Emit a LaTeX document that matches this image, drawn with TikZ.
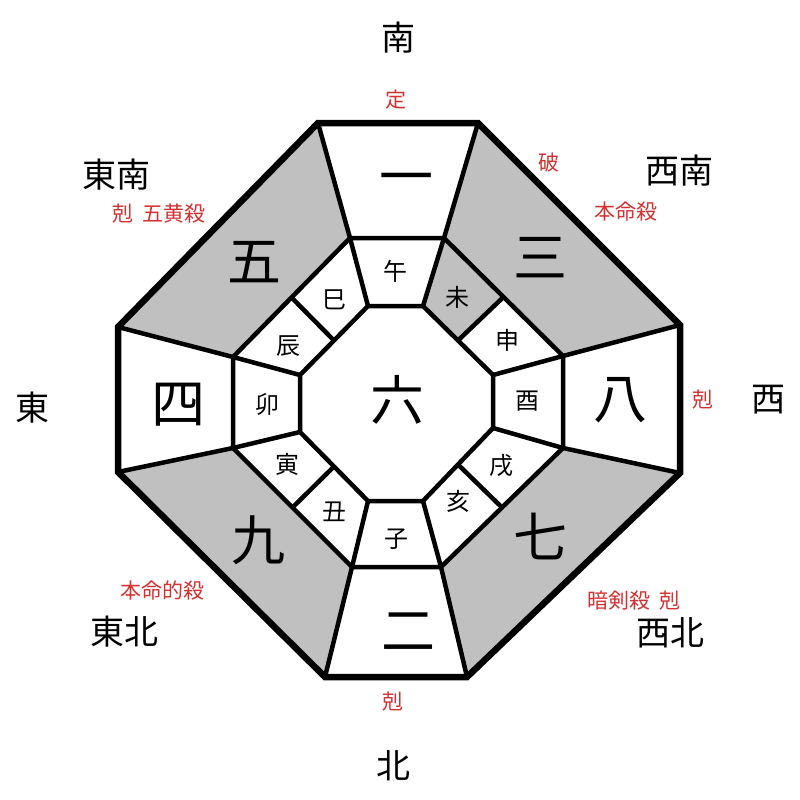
\documentclass[tikz,border=0pt]{standalone}
\usepackage{fontspec}
\newfontfamily\jp{Noto Sans CJK JP}
\usetikzlibrary{calc}
\definecolor{sect}{RGB}{192,192,192}
\definecolor{note}{RGB}{210,50,50}
\tikzset{
  outerline/.style={line width=6.5pt, line join=miter},
  innerline/.style={line width=4.5pt, line join=miter},
  big/.style={font=\jp\fontsize{54}{54}\selectfont, inner sep=0pt},
  mid/.style={font=\jp\fontsize{24}{24}\selectfont, inner sep=0pt},
  dir/.style={font=\jp\fontsize{34}{34}\selectfont, inner sep=0pt},
  rednote/.style={font=\jp\fontsize{21}{21}\selectfont, text=note, inner sep=0pt},
}
\begin{document}
\begin{tikzpicture}[x=1pt,y=-1pt]
\useasboundingbox[fill=white] (0,0) rectangle (800,800);
% outer octagon
\coordinate (O1) at (318,123); \coordinate (O2) at (478,123);
\coordinate (O3) at (680,325); \coordinate (O4) at (680,473);
\coordinate (O5) at (467,677); \coordinate (O6) at (325,677);
\coordinate (O7) at (118,472); \coordinate (O8) at (118,327);
% middle octagon
\coordinate (M1) at (350,238); \coordinate (M2) at (444,238);
\coordinate (M3) at (563,356); \coordinate (M4) at (563,448);
\coordinate (M5) at (441,567); \coordinate (M6) at (352,567);
\coordinate (M7) at (233,448); \coordinate (M8) at (233,357);
% inner octagon
\coordinate (I1) at (368,306); \coordinate (I2) at (423,306);
\coordinate (I3) at (493,375); \coordinate (I4) at (493,428);
\coordinate (I5) at (423,501); \coordinate (I6) at (368,501);
\coordinate (I7) at (300,432); \coordinate (I8) at (300,375);
% midpoints on diagonals
\coordinate (A23) at ($(M2)!0.5!(M3)$); \coordinate (B23) at ($(I2)!0.5!(I3)$);
\coordinate (A45) at ($(M4)!0.5!(M5)$); \coordinate (B45) at ($(I4)!0.5!(I5)$);
\coordinate (A67) at ($(M6)!0.5!(M7)$); \coordinate (B67) at ($(I6)!0.5!(I7)$);
\coordinate (A81) at ($(M8)!0.5!(M1)$); \coordinate (B81) at ($(I8)!0.5!(I1)$);
% grey fills
\fill[sect] (O2) -- (O3) -- (M3) -- (M2) -- cycle;
\fill[sect] (O4) -- (O5) -- (M5) -- (M4) -- cycle;
\fill[sect] (O6) -- (O7) -- (M7) -- (M6) -- cycle;
\fill[sect] (O8) -- (O1) -- (M1) -- (M8) -- cycle;
\fill[sect] (M2) -- (A23) -- (B23) -- (I2) -- cycle;
% lines
\draw[innerline] (M1) -- (M2) -- (M3) -- (M4) -- (M5) -- (M6) -- (M7) -- (M8) -- cycle;
\draw[innerline] (I1) -- (I2) -- (I3) -- (I4) -- (I5) -- (I6) -- (I7) -- (I8) -- cycle;
\foreach \i in {1,...,8} {
  \draw[innerline] (O\i) -- (M\i);
  \draw[innerline] (M\i) -- (I\i);
}
\draw[innerline] (A23) -- (B23);
\draw[innerline] (A45) -- (B45);
\draw[innerline] (A67) -- (B67);
\draw[innerline] (A81) -- (B81);
\draw[outerline] (O1) -- (O2) -- (O3) -- (O4) -- (O5) -- (O6) -- (O7) -- (O8) -- cycle;
% big numerals
\node[big] (n1) at (406,185) {一};
\node[big] (n3) at (540,258) {三};
\node[big] (n5) at (254,262) {五};
\node[big] (n4) at (178,405) {四};
\node[big] (n8) at (620,400) {八};
\node[big] (n9) at (258,540) {九};
\node[big] (n7) at (540,536) {七};
\node[big] (n2) at (408,632) {二};
\node[big] (n6) at (397,400) {六};
% twelve branches
\node[mid] (b1) at (395,271) {午};
\node[mid] (b2) at (457,297) {未};
\node[mid] (b3) at (507,340) {申};
\node[mid] (b4) at (527,401) {酉};
\node[mid] (b5) at (501,466) {戌};
\node[mid] (b6) at (458,501) {亥};
\node[mid] (b7) at (396,539) {子};
\node[mid] (b8) at (334,512) {丑};
\node[mid] (b9) at (287,464) {寅};
\node[mid] (b10) at (267,404) {卯};
\node[mid] (b11) at (288,346) {辰};
\node[mid] (b12) at (334,300) {巳};
% directions
\node[dir] (dS) at (398,38) {南};
\node[dir] (dSE) at (116,175) {東南};
\node[dir] (dSW) at (679,171) {西南};
\node[dir] (dE) at (32,408) {東};
\node[dir] (dW) at (768,400) {西};
\node[dir] (dNE) at (124,632) {東北};
\node[dir] (dNW) at (670,633) {西北};
\node[dir] (dN) at (393,766) {北};
% red notes
\node[rednote] (r1) at (396,100) {定};
\node[rednote] (r2) at (159,214) {剋\ \ 五黄殺};
\node[rednote] (r3) at (549,163) {破};
\node[rednote] (r4) at (626,212) {本命殺};
\node[rednote] (r5) at (703,400) {剋};
\node[rednote] (r6) at (393,702) {剋};
\node[rednote] (r7) at (162,590) {本命的殺};
\node[rednote] (r8) at (634,601) {暗剣殺\ \ 剋};
\end{tikzpicture}
\end{document}
